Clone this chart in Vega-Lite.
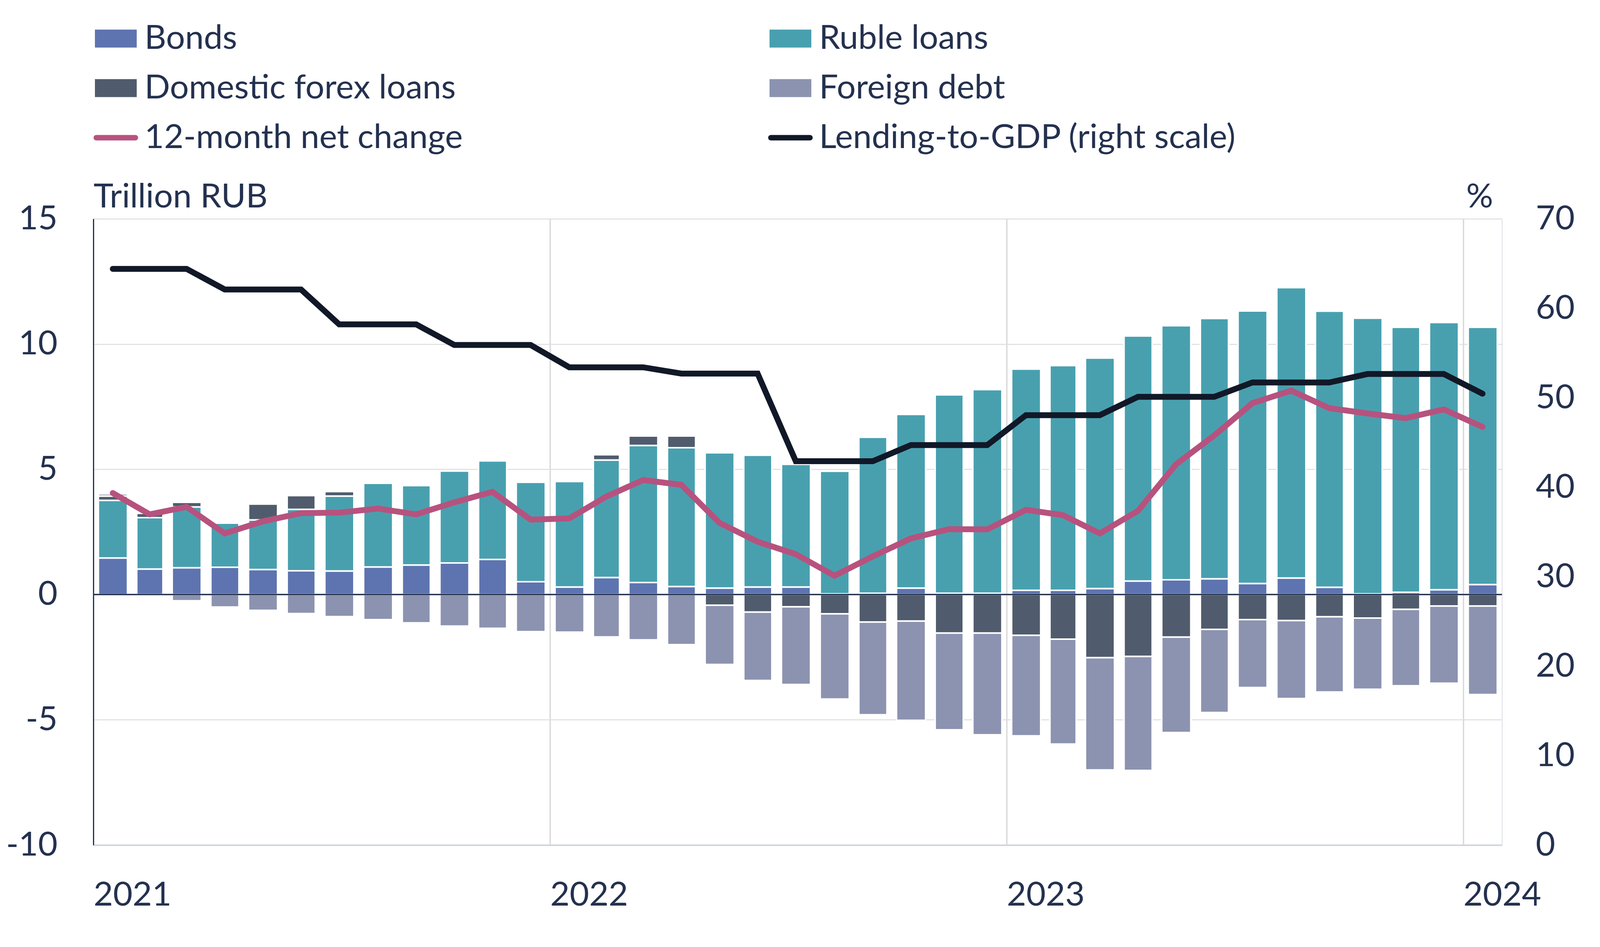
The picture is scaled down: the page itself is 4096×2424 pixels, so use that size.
{
  "$schema": "https://vega.github.io/schema/vega-lite/v6.json",
  "width": 3606,
  "height": 1603,
  "autosize": {"type": "none"},
  "padding": {"left": 239, "top": 560, "right": 251, "bottom": 261},
  "background": "white",
  "config": {
    "view": {"stroke": null},
    "font": "Lato",
    "axis": {
      "labelFont": "Lato", "titleFont": "Lato",
      "labelColor": "#24314F", "titleColor": "#24314F",
      "labelFontSize": 86, "titleFontSize": 86,
      "titleFontWeight": "normal", "labelFontWeight": "normal",
      "ticks": false, "tickSize": 0, "labelLimit": 1000
    }
  },
  "datasets": {
    "bars": [
      {"date": "2021-01-01", "series": "Bonds", "k": 1, "value": 1.46},
      {"date": "2021-01-01", "series": "Ruble loans", "k": 2, "value": 2.30},
      {"date": "2021-01-01", "series": "Domestic forex loans", "k": 3, "value": 0.17},
      {"date": "2021-01-01", "series": "Foreign debt", "k": 4, "value": 0.09},
      {"date": "2021-02-01", "series": "Bonds", "k": 1, "value": 1.02},
      {"date": "2021-02-01", "series": "Ruble loans", "k": 2, "value": 2.05},
      {"date": "2021-02-01", "series": "Domestic forex loans", "k": 3, "value": 0.17},
      {"date": "2021-02-01", "series": "Foreign debt", "k": 4, "value": -0.05},
      {"date": "2021-03-01", "series": "Bonds", "k": 1, "value": 1.07},
      {"date": "2021-03-01", "series": "Ruble loans", "k": 2, "value": 2.43},
      {"date": "2021-03-01", "series": "Domestic forex loans", "k": 3, "value": 0.18},
      {"date": "2021-03-01", "series": "Foreign debt", "k": 4, "value": -0.25},
      {"date": "2021-04-01", "series": "Bonds", "k": 1, "value": 1.09},
      {"date": "2021-04-01", "series": "Ruble loans", "k": 2, "value": 1.76},
      {"date": "2021-04-01", "series": "Foreign debt", "k": 4, "value": -0.50},
      {"date": "2021-05-01", "series": "Bonds", "k": 1, "value": 1.00},
      {"date": "2021-05-01", "series": "Ruble loans", "k": 2, "value": 1.98},
      {"date": "2021-05-01", "series": "Domestic forex loans", "k": 3, "value": 0.63},
      {"date": "2021-05-01", "series": "Foreign debt", "k": 4, "value": -0.63},
      {"date": "2021-06-01", "series": "Bonds", "k": 1, "value": 0.95},
      {"date": "2021-06-01", "series": "Ruble loans", "k": 2, "value": 2.45},
      {"date": "2021-06-01", "series": "Domestic forex loans", "k": 3, "value": 0.55},
      {"date": "2021-06-01", "series": "Foreign debt", "k": 4, "value": -0.76},
      {"date": "2021-07-01", "series": "Bonds", "k": 1, "value": 0.94},
      {"date": "2021-07-01", "series": "Ruble loans", "k": 2, "value": 2.99},
      {"date": "2021-07-01", "series": "Domestic forex loans", "k": 3, "value": 0.18},
      {"date": "2021-07-01", "series": "Foreign debt", "k": 4, "value": -0.88},
      {"date": "2021-08-01", "series": "Bonds", "k": 1, "value": 1.10},
      {"date": "2021-08-01", "series": "Ruble loans", "k": 2, "value": 3.34},
      {"date": "2021-08-01", "series": "Foreign debt", "k": 4, "value": -1.00},
      {"date": "2021-09-01", "series": "Bonds", "k": 1, "value": 1.18},
      {"date": "2021-09-01", "series": "Ruble loans", "k": 2, "value": 3.17},
      {"date": "2021-09-01", "series": "Foreign debt", "k": 4, "value": -1.13},
      {"date": "2021-10-01", "series": "Bonds", "k": 1, "value": 1.26},
      {"date": "2021-10-01", "series": "Ruble loans", "k": 2, "value": 3.67},
      {"date": "2021-10-01", "series": "Foreign debt", "k": 4, "value": -1.26},
      {"date": "2021-11-01", "series": "Bonds", "k": 1, "value": 1.40},
      {"date": "2021-11-01", "series": "Ruble loans", "k": 2, "value": 3.94},
      {"date": "2021-11-01", "series": "Domestic forex loans", "k": 3, "value": 0.05},
      {"date": "2021-11-01", "series": "Foreign debt", "k": 4, "value": -1.35},
      {"date": "2021-12-01", "series": "Bonds", "k": 1, "value": 0.51},
      {"date": "2021-12-01", "series": "Ruble loans", "k": 2, "value": 3.97},
      {"date": "2021-12-01", "series": "Foreign debt", "k": 4, "value": -1.48},
      {"date": "2022-01-01", "series": "Bonds", "k": 1, "value": 0.30},
      {"date": "2022-01-01", "series": "Ruble loans", "k": 2, "value": 4.21},
      {"date": "2022-01-01", "series": "Foreign debt", "k": 4, "value": -1.50},
      {"date": "2022-02-01", "series": "Bonds", "k": 1, "value": 0.68},
      {"date": "2022-02-01", "series": "Ruble loans", "k": 2, "value": 4.69},
      {"date": "2022-02-01", "series": "Domestic forex loans", "k": 3, "value": 0.21},
      {"date": "2022-02-01", "series": "Foreign debt", "k": 4, "value": -1.69},
      {"date": "2022-03-01", "series": "Bonds", "k": 1, "value": 0.48},
      {"date": "2022-03-01", "series": "Ruble loans", "k": 2, "value": 5.47},
      {"date": "2022-03-01", "series": "Domestic forex loans", "k": 3, "value": 0.38},
      {"date": "2022-03-01", "series": "Foreign debt", "k": 4, "value": -1.81},
      {"date": "2022-04-01", "series": "Bonds", "k": 1, "value": 0.32},
      {"date": "2022-04-01", "series": "Ruble loans", "k": 2, "value": 5.54},
      {"date": "2022-04-01", "series": "Domestic forex loans", "k": 3, "value": 0.47},
      {"date": "2022-04-01", "series": "Foreign debt", "k": 4, "value": -2.00},
      {"date": "2022-05-01", "series": "Bonds", "k": 1, "value": 0.26},
      {"date": "2022-05-01", "series": "Ruble loans", "k": 2, "value": 5.40},
      {"date": "2022-05-01", "series": "Domestic forex loans", "k": 3, "value": -0.43},
      {"date": "2022-05-01", "series": "Foreign debt", "k": 4, "value": -2.36},
      {"date": "2022-06-01", "series": "Bonds", "k": 1, "value": 0.30},
      {"date": "2022-06-01", "series": "Ruble loans", "k": 2, "value": 5.26},
      {"date": "2022-06-01", "series": "Domestic forex loans", "k": 3, "value": -0.70},
      {"date": "2022-06-01", "series": "Foreign debt", "k": 4, "value": -2.73},
      {"date": "2022-07-01", "series": "Bonds", "k": 1, "value": 0.30},
      {"date": "2022-07-01", "series": "Ruble loans", "k": 2, "value": 4.90},
      {"date": "2022-07-01", "series": "Domestic forex loans", "k": 3, "value": -0.49},
      {"date": "2022-07-01", "series": "Foreign debt", "k": 4, "value": -3.10},
      {"date": "2022-08-01", "series": "Bonds", "k": 1, "value": 0.03},
      {"date": "2022-08-01", "series": "Ruble loans", "k": 2, "value": 4.89},
      {"date": "2022-08-01", "series": "Domestic forex loans", "k": 3, "value": -0.77},
      {"date": "2022-08-01", "series": "Foreign debt", "k": 4, "value": -3.40},
      {"date": "2022-09-01", "series": "Bonds", "k": 1, "value": 0.05},
      {"date": "2022-09-01", "series": "Ruble loans", "k": 2, "value": 6.23},
      {"date": "2022-09-01", "series": "Domestic forex loans", "k": 3, "value": -1.10},
      {"date": "2022-09-01", "series": "Foreign debt", "k": 4, "value": -3.70},
      {"date": "2022-10-01", "series": "Bonds", "k": 1, "value": 0.26},
      {"date": "2022-10-01", "series": "Ruble loans", "k": 2, "value": 6.93},
      {"date": "2022-10-01", "series": "Domestic forex loans", "k": 3, "value": -1.06},
      {"date": "2022-10-01", "series": "Foreign debt", "k": 4, "value": -3.96},
      {"date": "2022-11-01", "series": "Bonds", "k": 1, "value": 0.05},
      {"date": "2022-11-01", "series": "Ruble loans", "k": 2, "value": 7.92},
      {"date": "2022-11-01", "series": "Domestic forex loans", "k": 3, "value": -1.54},
      {"date": "2022-11-01", "series": "Foreign debt", "k": 4, "value": -3.86},
      {"date": "2022-12-01", "series": "Bonds", "k": 1, "value": 0.05},
      {"date": "2022-12-01", "series": "Ruble loans", "k": 2, "value": 8.13},
      {"date": "2022-12-01", "series": "Domestic forex loans", "k": 3, "value": -1.54},
      {"date": "2022-12-01", "series": "Foreign debt", "k": 4, "value": -4.06},
      {"date": "2023-01-01", "series": "Bonds", "k": 1, "value": 0.17},
      {"date": "2023-01-01", "series": "Ruble loans", "k": 2, "value": 8.83},
      {"date": "2023-01-01", "series": "Domestic forex loans", "k": 3, "value": -1.63},
      {"date": "2023-01-01", "series": "Foreign debt", "k": 4, "value": -4.01},
      {"date": "2023-02-01", "series": "Bonds", "k": 1, "value": 0.17},
      {"date": "2023-02-01", "series": "Ruble loans", "k": 2, "value": 8.97},
      {"date": "2023-02-01", "series": "Domestic forex loans", "k": 3, "value": -1.78},
      {"date": "2023-02-01", "series": "Foreign debt", "k": 4, "value": -4.19},
      {"date": "2023-03-01", "series": "Bonds", "k": 1, "value": 0.24},
      {"date": "2023-03-01", "series": "Ruble loans", "k": 2, "value": 9.20},
      {"date": "2023-03-01", "series": "Domestic forex loans", "k": 3, "value": -2.52},
      {"date": "2023-03-01", "series": "Foreign debt", "k": 4, "value": -4.48},
      {"date": "2023-04-01", "series": "Bonds", "k": 1, "value": 0.54},
      {"date": "2023-04-01", "series": "Ruble loans", "k": 2, "value": 9.78},
      {"date": "2023-04-01", "series": "Domestic forex loans", "k": 3, "value": -2.47},
      {"date": "2023-04-01", "series": "Foreign debt", "k": 4, "value": -4.55},
      {"date": "2023-05-01", "series": "Bonds", "k": 1, "value": 0.59},
      {"date": "2023-05-01", "series": "Ruble loans", "k": 2, "value": 10.14},
      {"date": "2023-05-01", "series": "Domestic forex loans", "k": 3, "value": -1.70},
      {"date": "2023-05-01", "series": "Foreign debt", "k": 4, "value": -3.81},
      {"date": "2023-06-01", "series": "Bonds", "k": 1, "value": 0.63},
      {"date": "2023-06-01", "series": "Ruble loans", "k": 2, "value": 10.39},
      {"date": "2023-06-01", "series": "Domestic forex loans", "k": 3, "value": -1.39},
      {"date": "2023-06-01", "series": "Foreign debt", "k": 4, "value": -3.32},
      {"date": "2023-07-01", "series": "Bonds", "k": 1, "value": 0.44},
      {"date": "2023-07-01", "series": "Ruble loans", "k": 2, "value": 10.88},
      {"date": "2023-07-01", "series": "Domestic forex loans", "k": 3, "value": -1.00},
      {"date": "2023-07-01", "series": "Foreign debt", "k": 4, "value": -2.71},
      {"date": "2023-08-01", "series": "Bonds", "k": 1, "value": 0.66},
      {"date": "2023-08-01", "series": "Ruble loans", "k": 2, "value": 11.59},
      {"date": "2023-08-01", "series": "Domestic forex loans", "k": 3, "value": -1.04},
      {"date": "2023-08-01", "series": "Foreign debt", "k": 4, "value": -3.11},
      {"date": "2023-09-01", "series": "Bonds", "k": 1, "value": 0.29},
      {"date": "2023-09-01", "series": "Ruble loans", "k": 2, "value": 11.02},
      {"date": "2023-09-01", "series": "Domestic forex loans", "k": 3, "value": -0.89},
      {"date": "2023-09-01", "series": "Foreign debt", "k": 4, "value": -3.00},
      {"date": "2023-10-01", "series": "Bonds", "k": 1, "value": 0.03},
      {"date": "2023-10-01", "series": "Ruble loans", "k": 2, "value": 11.00},
      {"date": "2023-10-01", "series": "Domestic forex loans", "k": 3, "value": -0.94},
      {"date": "2023-10-01", "series": "Foreign debt", "k": 4, "value": -2.84},
      {"date": "2023-11-01", "series": "Bonds", "k": 1, "value": 0.09},
      {"date": "2023-11-01", "series": "Ruble loans", "k": 2, "value": 10.58},
      {"date": "2023-11-01", "series": "Domestic forex loans", "k": 3, "value": -0.59},
      {"date": "2023-11-01", "series": "Foreign debt", "k": 4, "value": -3.05},
      {"date": "2023-12-01", "series": "Bonds", "k": 1, "value": 0.19},
      {"date": "2023-12-01", "series": "Ruble loans", "k": 2, "value": 10.67},
      {"date": "2023-12-01", "series": "Domestic forex loans", "k": 3, "value": -0.46},
      {"date": "2023-12-01", "series": "Foreign debt", "k": 4, "value": -3.08},
      {"date": "2024-01-01", "series": "Bonds", "k": 1, "value": 0.40},
      {"date": "2024-01-01", "series": "Ruble loans", "k": 2, "value": 10.27},
      {"date": "2024-01-01", "series": "Domestic forex loans", "k": 3, "value": -0.46},
      {"date": "2024-01-01", "series": "Foreign debt", "k": 4, "value": -3.53}
    ],
    "lines": [
      {"date": "2021-01-01", "net": 4.05, "gdp": 64.4},
      {"date": "2021-02-01", "net": 3.20, "gdp": 64.4},
      {"date": "2021-03-01", "net": 3.50, "gdp": 64.4},
      {"date": "2021-04-01", "net": 2.44, "gdp": 62.1},
      {"date": "2021-05-01", "net": 2.92, "gdp": 62.1},
      {"date": "2021-06-01", "net": 3.25, "gdp": 62.1},
      {"date": "2021-07-01", "net": 3.27, "gdp": 58.2},
      {"date": "2021-08-01", "net": 3.43, "gdp": 58.2},
      {"date": "2021-09-01", "net": 3.20, "gdp": 58.2},
      {"date": "2021-10-01", "net": 3.68, "gdp": 55.9},
      {"date": "2021-11-01", "net": 4.10, "gdp": 55.9},
      {"date": "2021-12-01", "net": 2.99, "gdp": 55.9},
      {"date": "2022-01-01", "net": 3.04, "gdp": 53.4},
      {"date": "2022-02-01", "net": 3.91, "gdp": 53.4},
      {"date": "2022-03-01", "net": 4.57, "gdp": 53.4},
      {"date": "2022-04-01", "net": 4.38, "gdp": 52.7},
      {"date": "2022-05-01", "net": 2.86, "gdp": 52.7},
      {"date": "2022-06-01", "net": 2.11, "gdp": 52.7},
      {"date": "2022-07-01", "net": 1.61, "gdp": 42.9},
      {"date": "2022-08-01", "net": 0.75, "gdp": 42.9},
      {"date": "2022-09-01", "net": 1.52, "gdp": 42.9},
      {"date": "2022-10-01", "net": 2.24, "gdp": 44.7},
      {"date": "2022-11-01", "net": 2.61, "gdp": 44.7},
      {"date": "2022-12-01", "net": 2.60, "gdp": 44.7},
      {"date": "2023-01-01", "net": 3.38, "gdp": 48.05},
      {"date": "2023-02-01", "net": 3.17, "gdp": 48.05},
      {"date": "2023-03-01", "net": 2.44, "gdp": 48.05},
      {"date": "2023-04-01", "net": 3.34, "gdp": 50.1},
      {"date": "2023-05-01", "net": 5.20, "gdp": 50.1},
      {"date": "2023-06-01", "net": 6.35, "gdp": 50.1},
      {"date": "2023-07-01", "net": 7.64, "gdp": 51.7},
      {"date": "2023-08-01", "net": 8.14, "gdp": 51.7},
      {"date": "2023-09-01", "net": 7.44, "gdp": 51.7},
      {"date": "2023-10-01", "net": 7.23, "gdp": 52.65},
      {"date": "2023-11-01", "net": 7.04, "gdp": 52.65},
      {"date": "2023-12-01", "net": 7.39, "gdp": 52.65},
      {"date": "2024-01-01", "net": 6.69, "gdp": 50.45}
    ]
  },
  "layer": [
    {
      "layer": [
        {
          "data": {"name": "bars"},
          "mark": {"type": "bar", "stroke": "white", "strokeWidth": 4, "width": {"band": 0.76}},
          "encoding": {
            "x": {
              "field": "date", "type": "temporal", "timeUnit": "utcyearmonth",
              "scale": {"type": "utc", "domain": [{"year": 2021, "month": 1, "date": 1, "utc": true}, {"year": 2024, "month": 2, "date": 1, "utc": true}], "nice": false, "padding": 0},
              "axis": {
                "title": null,
                "values": [{"year": 2021, "month": 1, "date": 1, "utc": true}, {"year": 2022, "month": 1, "date": 1, "utc": true}, {"year": 2023, "month": 1, "date": 1, "utc": true}, {"year": 2024, "month": 1, "date": 1, "utc": true}],
                "labelExpr": "utcFormat(datum.value, '%Y')",
                "labelAlign": "left", "labelBaseline": "top", "labelPadding": 86,
                "labelFlush": false, "labelOverlap": false,
                "grid": true, "gridColor": "#d9d9d9", "gridWidth": 3.5,
                "domainColor": "#cfd3dc", "domainWidth": 4
              }
            },
            "y": {
              "field": "value", "type": "quantitative", "stack": "zero",
              "scale": {"domain": [-10, 15], "nice": false, "zero": false},
              "axis": {
                "title": "Trillion RUB", "values": [-10, -5, 0, 5, 10, 15],
                "labelExpr": "'' + datum.value",
                "grid": true, "gridColor": "#dcdee3", "gridWidth": 2.5,
                "domainColor": "#24314F", "domainWidth": 3,
                "labelPadding": 92,
                "titleAngle": 0, "titleAlign": "left", "titleBaseline": "alphabetic",
                "titleX": 0, "titleY": -30
              }
            },
            "color": {
              "field": "series", "type": "nominal",
              "scale": {
                "domain": ["Bonds", "Domestic forex loans", "12-month net change", "Ruble loans", "Foreign debt", "Lending-to-GDP (right scale)"],
                "range": ["#5E74B0", "#505C6D", "#B7527E", "#48A0AF", "#8C93B0", "#111827"]
              },
              "legend": {
                "title": null, "orient": "none", "legendX": 4, "legendY": -515,
                "columns": 2, "columnPadding": 781, "rowPadding": 30, "padding": 0,
                "symbolSize": 11449, "symbolStrokeWidth": 0,
                "labelFont": "Lato", "labelFontSize": 86, "labelColor": "#24314F",
                "labelOffset": 20, "labelLimit": 3000,
                "symbolType": "M-1,-0.43H1V0.43H-1Z",
                "encoding": {
                  "symbols": {
                    "shape": {"value": {"expr": "indexof(['12-month net change', 'Lending-to-GDP (right scale)'], datum.value) >= 0 ? 'M-0.935,-0.13H0.935A0.13,0.13 0 0 1 0.935,0.13H-0.935A0.13,0.13 0 0 1 -0.935,-0.13Z' : 'M-1,-0.43H1V0.43H-1Z'"}}
                  }
                }
              }
            },
            "order": {"field": "k", "type": "quantitative", "sort": "ascending"}
          }
        },
        {
          "data": {"values": [{}]},
          "mark": {"type": "rule", "color": "#24314F", "strokeWidth": 3.5},
          "encoding": {"y": {"datum": 0}}
        },
        {
          "data": {"name": "lines"},
          "mark": {"type": "line", "strokeWidth": 15, "strokeCap": "round"},
          "encoding": {
            "x": {"field": "date", "type": "temporal", "timeUnit": "utcyearmonth", "bandPosition": 0.5},
            "y": {"field": "net", "type": "quantitative", "title": "Trillion RUB"},
            "color": {"datum": "12-month net change"}
          }
        }
      ]
    },
    {
      "data": {"name": "lines"},
      "mark": {"type": "line", "strokeWidth": 15, "strokeCap": "round"},
      "encoding": {
        "x": {"field": "date", "type": "temporal", "timeUnit": "utcyearmonth", "bandPosition": 0.5},
        "y": {
          "field": "gdp", "type": "quantitative",
          "scale": {"domain": [0, 70], "nice": false},
          "axis": {
            "orient": "right", "title": "%", "values": [0, 10, 20, 30, 40, 50, 60, 70],
            "grid": false, "domainColor": "#cfd3dc", "domainWidth": 1.5,
            "labelPadding": 86,
            "titleAngle": 0, "titleAlign": "right", "titleBaseline": "alphabetic",
            "titleX": -23, "titleY": -30
          }
        },
        "color": {"datum": "Lending-to-GDP (right scale)"}
      }
    }
  ],
  "resolve": {"scale": {"y": "independent"}}
}
